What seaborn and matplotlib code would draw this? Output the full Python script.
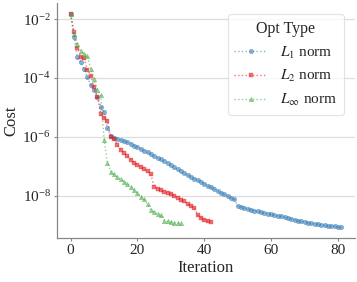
import numpy as np
import pandas as pd
import matplotlib
matplotlib.use("Agg")
import matplotlib.pyplot as plt
import seaborn as sns

# log10(cost) per iteration
l1_log = [-1.83, -2.6, -3.3, -3.46, -3.7, -3.97, -4.24, -4.4, -4.64, -4.98,
          -5.15, -5.7, -5.97, -6.03, -6.07, -6.11, -6.15, -6.19, -6.24, -6.3,
          -6.36, -6.41, -6.47, -6.53, -6.59, -6.65, -6.71, -6.77, -6.83, -6.9,
          -6.97, -7.04, -7.11, -7.18, -7.24, -7.3, -7.36, -7.42, -7.48, -7.54,
          -7.6, -7.66, -7.72, -7.78, -7.84, -7.9, -7.96, -8.02, -8.08, -8.13,
          -8.35, -8.38, -8.42, -8.45, -8.48, -8.51, -8.54, -8.57, -8.59, -8.61,
          -8.64, -8.66, -8.69, -8.71, -8.74, -8.76, -8.79, -8.82, -8.85, -8.88,
          -8.9, -8.92, -8.94, -8.96, -8.98, -9.0, -9.01, -9.03, -9.04, -9.05,
          -9.07, -9.08]
l2_log = [-1.83, -2.44, -2.98, -3.28, -3.32, -3.72, -3.92, -4.32, -4.64, -5.22,
          -5.35, -5.45, -6.0, -6.08, -6.27, -6.45, -6.55, -6.65, -6.78, -6.88,
          -6.95, -7.02, -7.1, -7.18, -7.28, -7.7, -7.76, -7.82, -7.87, -7.9,
          -7.95, -8.0, -8.07, -8.14, -8.2, -8.27, -8.35, -8.42, -8.66, -8.75,
          -8.82, -8.88, -8.9]
linf_log = [-1.83, -2.5, -2.85, -3.1, -3.18, -3.25, -3.7, -4.05, -4.4, -4.58,
            -6.1, -6.88, -7.19, -7.28, -7.38, -7.45, -7.53, -7.6, -7.7, -7.8,
            -7.9, -8.05, -8.12, -8.3, -8.5, -8.56, -8.62, -8.66, -8.85, -8.88,
            -8.9, -8.92, -8.93, -8.94]

labels = [r"$L_1$ norm", r"$L_2$ norm", r"$L_\infty$ norm"]
series = [l1_log, l2_log, linf_log]

frames = []
for lab, s in zip(labels, series):
    frames.append(pd.DataFrame({"Iteration": np.arange(len(s)),
                                "Cost": 10.0 ** np.array(s),
                                "Opt Type": lab}))
df = pd.concat(frames, ignore_index=True)

sns.set_theme(style="ticks")
plt.rcParams["font.family"] = ["Liberation Serif", "DejaVu Serif"]
plt.rcParams["mathtext.fontset"] = "stix"

fig, ax = plt.subplots(figsize=(3.57, 2.82), dpi=100)
fig.subplots_adjust(left=0.16, right=0.994, bottom=0.156, top=0.988)

colors = ["#377eb8", "#e41a1c", "#4daf4a"]
markers = ["o", "s", "^"]
for lab, c, m in zip(labels, colors, markers):
    sub = df[df["Opt Type"] == lab]
    sns.lineplot(data=sub, x="Iteration", y="Cost", ax=ax, label=lab,
                 color=c, marker=m, markersize=3.3, linestyle=":", linewidth=1,
                 alpha=0.6, markeredgewidth=0.3, markeredgecolor=c)

ax.set_yscale("log")
ax.set_yticks([1e-2, 1e-4, 1e-6, 1e-8])
ax.yaxis.set_minor_locator(matplotlib.ticker.NullLocator())
ax.set_xticks([0, 20, 40, 60, 80])
ax.grid(axis="y", color="#dddddd", linewidth=0.9)
ax.set_axisbelow(True)
sns.despine(ax=ax)
for sp in ["left", "bottom"]:
    ax.spines[sp].set_color("#888888")
    ax.spines[sp].set_linewidth(0.9)
ax.tick_params(axis="both", labelsize=11, length=2.5, width=0.8,
               color="#888888", pad=2)
ax.set_xlabel("Iteration", fontsize=12, labelpad=2)
ax.set_ylabel("Cost", fontsize=12, labelpad=2)

leg = ax.legend(title="Opt Type", loc="upper right", fontsize=11,
                title_fontsize=11.5, frameon=True, borderpad=0.45,
                labelspacing=0.5, handlelength=2.1, handletextpad=0.9,
                borderaxespad=0.7)
leg.get_frame().set_edgecolor("#dddddd")
leg.get_frame().set_linewidth(0.8)

fig.savefig("out.png", dpi=100)
